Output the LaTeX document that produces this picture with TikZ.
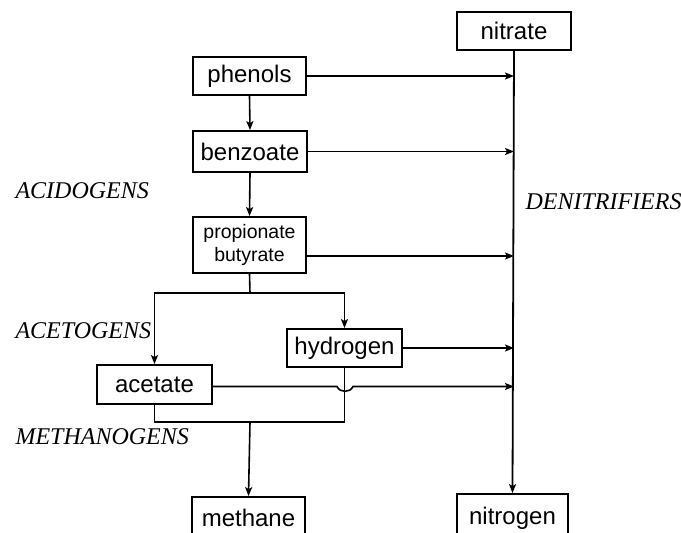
\documentclass[tikz,border=0pt]{standalone}
\usepackage{fontspec}
\setmainfont{Liberation Sans}
\newfontfamily\labelfont{Liberation Serif}
\usetikzlibrary{arrows.meta}
\begin{document}
\begin{tikzpicture}[x=1pt,y=-1pt,
  box/.style={draw,line width=1.8pt,rectangle,inner sep=0pt,font=\fontsize{24}{26}\selectfont},
  conn/.style={line width=1.6pt},
  arr/.style={conn,-{Stealth[length=9pt,width=7pt,inset=2pt]}},
  grp/.style={anchor=base west,font=\labelfont\itshape\fontsize{24}{26}\selectfont}]
\useasboundingbox (0,0) rectangle (681,533);
\clip (0,0) rectangle (681,533);
\node[box,minimum width=114pt,minimum height=38pt] (nitrate) at (514,31) {nitrate};
\node[box,minimum width=111pt,minimum height=48pt] (nitrogen) at (512.5,518) {nitrogen};
\node[box,minimum width=113pt,minimum height=38pt] (phenols) at (249.5,76) {phenols};
\node[box,minimum width=114pt,minimum height=41pt] (benzoate) at (250,151.5) {benzoate};
\node[box,minimum width=113pt,minimum height=56pt,align=center,font=\fontsize{19.5}{22.5}\selectfont] (prop) at (249.5,245) {propionate\\butyrate};
\node[box,minimum width=115pt,minimum height=38pt] (hydrogen) at (344.5,348) {hydrogen};
\node[box,minimum width=115pt,minimum height=39pt] (acetate) at (154.5,384.5) {acetate};
\node[box,minimum width=113pt,minimum height=42pt] (methane) at (248.5,518) {methane};

\node[grp] (acid) at (12,198) {ACIDOGENS};
\node[grp] (aceto) at (12,338) {ACETOGENS};
\node[grp] (metha) at (12,444) {METHANOGENS};
\node[grp] (denit) at (522,209) {DENITRIFIERS};

\draw[arr,line width=1.8pt] (nitrate.south) -- (nitrogen.north);
\draw[arr] (phenols.south) -- (benzoate.north);
\draw[arr] (benzoate.south) -- (prop.north);
\draw[arr] (phenols.east) -- (phenols.east -| nitrate.south);
\draw[arr] (benzoate.east) -- (benzoate.east -| nitrate.south);
\draw[arr] (prop.east) ++(0,11) coordinate (pe) -- (pe -| nitrate.south);
\coordinate (split) at (250,293);
\draw[conn] (prop.south) -- (split);
\draw[arr] (split) -| (hydrogen.north);
\draw[arr] (split) -| (acetate.north);
\draw[arr] (hydrogen.east) -- (hydrogen.east -| nitrate.south);
\coordinate (merge) at (250,422);
\draw[conn] (hydrogen.south) |- (merge);
\draw[conn] (acetate.south) |- (merge);
\draw[arr] (merge) -- (methane.north);
\coordinate (j1) at (337,386.5);
\coordinate (j2) at (353,386.5);
\draw[arr] (acetate.east |- j1) -- (j1) .. controls (340,393) and (350,393) .. (j2) -- (j2 -| nitrate.south);
\end{tikzpicture}
\end{document}
